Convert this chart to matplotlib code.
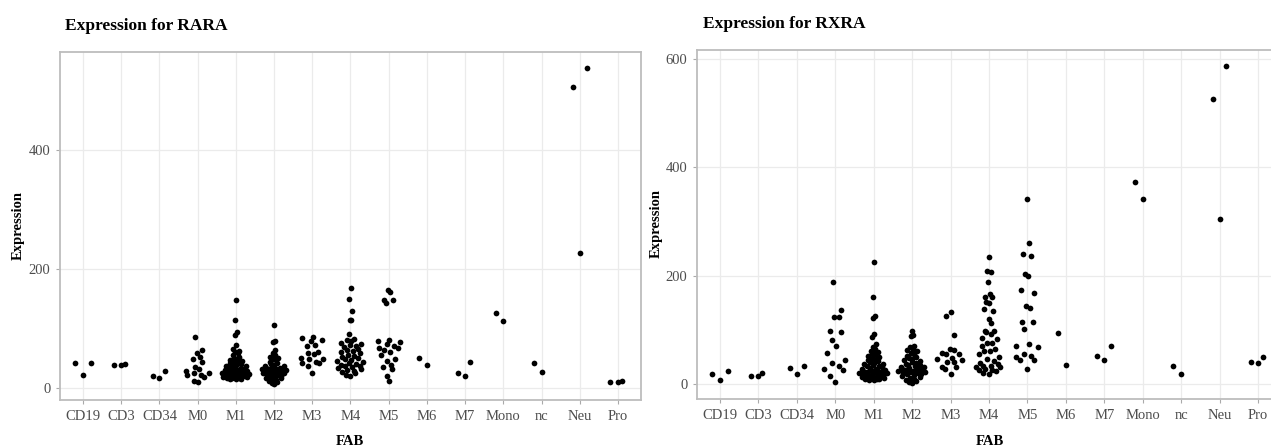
import numpy as np
import matplotlib
matplotlib.use('Agg')
import matplotlib.pyplot as plt
from matplotlib.ticker import MultipleLocator

plt.rcParams['font.family'] = ['Liberation Serif', 'DejaVu Serif']

fab_groups = ['CD19', 'CD3', 'CD34', 'M0', 'M1', 'M2', 'M3', 'M4', 'M5',
              'M6', 'M7', 'Mono', 'nc', 'Neu', 'Pro']

# expression, one list per FAB group
rara_values = [
    [42, 21, 42],
    [38, 38, 40],
    [19, 16, 29],
    [85, 63, 59, 52, 49, 44, 35, 31, 29, 25, 24, 22, 18, 12, 9, 22],
    [148, 114, 94, 89, 72, 65, 62, 60, 58, 55, 52, 50, 48, 47, 45, 44, 43, 42,
     40, 39, 38, 37, 36, 35, 34, 33, 32, 31, 30, 30, 29, 28, 28, 27, 26, 25,
     25, 24, 23, 22, 22, 21, 20, 20, 19, 18, 18, 17, 16, 16, 15, 15, 14],
    [105, 78, 77, 63, 58, 55, 52, 50, 48, 46, 44, 42, 40, 38, 37, 36, 35, 34,
     33, 32, 32, 31, 31, 30, 30, 29, 28, 28, 27, 26, 25, 24, 23, 22, 21, 20,
     19, 18, 17, 16, 15, 13, 12, 10, 8, 6],
    [85, 83, 81, 78, 72, 71, 60, 59, 57, 50, 49, 48, 44, 42, 42, 37, 25],
    [168, 150, 129, 114, 114, 91, 82, 80, 78, 76, 74, 72, 70, 68, 66, 64, 62,
     60, 58, 56, 54, 52, 50, 48, 46, 45, 44, 42, 40, 38, 37, 36, 35, 34, 32,
     30, 28, 26, 24, 22, 20],
    [165, 161, 148, 148, 142, 80, 78, 77, 73, 70, 67, 67, 64, 61, 55, 49, 45,
     39, 35, 32, 20, 12],
    [50, 38],
    [24, 20, 43],
    [126, 112],
    [41, 26],
    [539, 507, 227],
    [10, 10, 12],
]

rxra_values = [
    [17, 7, 23],
    [15, 15, 19],
    [29, 17, 33],
    [188, 136, 124, 124, 97, 95, 81, 70, 56, 43, 38, 33, 27, 25, 15, 3],
    [225, 160, 125, 122, 91, 86, 74, 68, 64, 60, 58, 56, 54, 52, 50, 48, 46,
     44, 42, 40, 38, 37, 36, 34, 33, 32, 30, 29, 28, 27, 26, 25, 24, 23, 22,
     22, 21, 20, 19, 18, 17, 16, 15, 14, 13, 12, 11, 10, 9, 8, 8, 7, 6],
    [98, 90, 88, 70, 67, 64, 62, 60, 57, 55, 52, 50, 48, 46, 44, 42, 40, 38,
     36, 35, 34, 32, 31, 30, 29, 28, 27, 26, 25, 24, 23, 22, 21, 20, 19, 18,
     17, 16, 14, 12, 10, 9, 7, 5, 3, 1],
    [132, 126, 90, 64, 63, 56, 55, 54, 48, 45, 44, 41, 40, 30, 30, 28, 17],
    [235, 209, 206, 189, 166, 160, 160, 152, 149, 138, 134, 119, 112, 98, 98,
     95, 92, 85, 82, 76, 75, 70, 64, 60, 60, 55, 50, 45, 42, 38, 36, 33, 33,
     31, 31, 27, 25, 25, 24, 20, 18],
    [341, 260, 240, 236, 203, 199, 174, 167, 143, 140, 115, 114, 102, 73, 70,
     68, 55, 52, 50, 44, 43, 27],
    [94, 35],
    [51, 44, 69],
    [373, 342],
    [33, 17],
    [588, 527, 305],
    [41, 39, 49],
]


def nrd0(y):
    hi = np.std(y, ddof=1)
    q75, q25 = np.percentile(y, [75, 25])
    lo = min(hi, (q75 - q25) / 1.34)
    if lo <= 0:
        lo = hi or abs(y[0]) or 1.0
    return 0.9 * lo * len(y) ** -0.2


def van_der_corput(n):
    out = []
    for i in range(1, n + 1):
        v, denom, k = 0.0, 1.0, i
        while k:
            denom *= 2
            v += (k % 2) / denom
            k //= 2
        out.append(v)
    return np.array(out)


# quasirandom jitter (density scaled van der Corput offsets)
def quasirandom(y, width=0.4, adjust=0.5):
    y = np.asarray(y, float)
    n = len(y)
    if n < 2:
        return np.zeros(n)
    bw = nrd0(y) * adjust
    grid = np.linspace(y.min() - 3 * bw, y.max() + 3 * bw, 1024)
    dens = np.exp(-0.5 * ((grid[:, None] - y[None, :]) / bw) ** 2).sum(axis=1)
    dens = dens / dens.max()
    rank = np.argsort(np.argsort(y, kind='stable'), kind='stable')
    return (van_der_corput(n)[rank] - 0.5) * 2 * width * np.interp(y, grid, dens)


def draw_panel(ax, values):
    for i, vals in enumerate(values):
        ax.scatter(i + quasirandom(vals), vals, s=17, c='black',
                   linewidths=0, zorder=3)
    allv = np.concatenate([np.asarray(v, float) for v in values])
    pad = 0.05 * (allv.max() - allv.min())
    ax.set_ylim(allv.min() - pad, allv.max() + pad)
    ax.set_xlim(-0.6, len(fab_groups) - 0.4)
    ax.set_xticks(range(len(fab_groups)))
    ax.set_xticklabels(fab_groups)
    ax.yaxis.set_major_locator(MultipleLocator(200))
    ax.grid(color='#EBEBEB', lw=0.9)
    ax.set_axisbelow(True)
    for s in ax.spines.values():
        s.set_color('#BDBDBD')
        s.set_linewidth(1.3)
    ax.tick_params(length=3, width=0.8, color='#AAAAAA', labelcolor='#4D4D4D',
                   labelsize=10.5, pad=4)


W, H = 1271, 448
fig = plt.figure(figsize=(W / 100, H / 100), dpi=100)

ax1 = fig.add_axes([60 / W, 48 / H, 581 / W, 348 / H])
draw_panel(ax1, rara_values)
ax2 = fig.add_axes([697 / W, 49 / H, 584 / W, 349 / H])
draw_panel(ax2, rxra_values)

fig.text(65 / W, 1 - 26 / H, 'Expression for RARA', fontsize=12.5,
         fontweight='bold', ha='left', va='center')
fig.text(703 / W, 1 - 24 / H, 'Expression for RXRA', fontsize=12.5,
         fontweight='bold', ha='left', va='center')
fig.text(18 / W, 1 - 226 / H, 'Expression', fontsize=10.5, fontweight='bold',
         rotation=90, ha='center', va='center')
fig.text(656 / W, 1 - 223 / H, 'Expression', fontsize=10.5, fontweight='bold',
         rotation=90, ha='center', va='center')
fig.text(350 / W, 1 - 441 / H, 'FAB', fontsize=10.5, fontweight='bold',
         ha='center', va='center')
fig.text(990 / W, 1 - 441 / H, 'FAB', fontsize=10.5, fontweight='bold',
         ha='center', va='center')

fig.savefig('out.png', dpi=100)
